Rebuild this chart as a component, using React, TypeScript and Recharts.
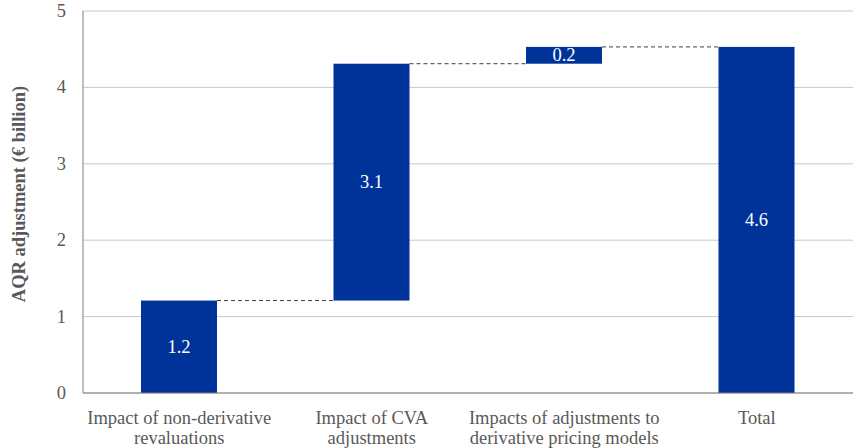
import React from 'react';
import { BarChart, Bar, XAxis, YAxis, CartesianGrid, LabelList } from 'recharts';

const categories = [
  'Impact of non-derivative|revaluations',
  'Impact of CVA|adjustments',
  'Impacts of adjustments to|derivative pricing models',
  'Total',
];
const baseValues = [0, 1.21, 4.31, 0];
const deltaValues = [1.21, 3.1, 0.22, 4.53];
const valueLabels = ['1.2', '3.1', '0.2', '4.6'];
const yTicks = [0, 1, 2, 3, 4, 5];

const data = categories.map((c, i) => ({
  name: c,
  base: baseValues[i],
  delta: deltaValues[i],
  label: valueLabels[i],
}));

const W = 856;
const H = 448;
const M = { top: 11, right: 3, bottom: 0, left: 0 };
const Y_W = 83;
const X_H = 55;
const PLOT_W = W - M.left - M.right - Y_W;
const BAND = PLOT_W / categories.length;
const FONT = "'Liberation Serif', 'Times New Roman', serif";
const FS = 18.5;
const BLUE = '#003399';
const TXT = '#595959';

const BarWithConnector = (props: any) => {
  const { x, y, width, height, index } = props;
  const gap = BAND - width;
  return (
    <g>
      <rect x={x} y={y} width={width} height={height} fill={BLUE} />
      {index < categories.length - 1 && (
        <line
          x1={x + width}
          x2={x + width + gap}
          y1={y}
          y2={y}
          stroke="#404040"
          strokeWidth={1}
          strokeDasharray="4 3"
        />
      )}
    </g>
  );
};

const XTick = (props: any) => {
  const { x, y, payload } = props;
  const lines = String(payload.value).split('|');
  return (
    <text
      x={x}
      y={y}
      textAnchor="middle"
      fill={TXT}
      style={{ fontFamily: FONT, fontSize: FS }}
    >
      {lines.map((l, i) => (
        <tspan key={i} x={x} dy={i === 0 ? 28.5 : 20}>
          {l}
        </tspan>
      ))}
    </text>
  );
};

const YTick = (props: any) => {
  const { x, y, payload } = props;
  return (
    <text
      x={x}
      y={y}
      dy={6}
      textAnchor="end"
      fill={TXT}
      style={{ fontFamily: FONT, fontSize: FS }}
    >
      {payload.value}
    </text>
  );
};

const ValueLabel = (props: any) => {
  const { x, y, width, height, value } = props;
  return (
    <text
      x={x + width / 2}
      y={y + height / 2}
      dy={6}
      textAnchor="middle"
      fill="#ffffff"
      style={{ fontFamily: FONT, fontSize: FS }}
    >
      {value}
    </text>
  );
};

export default function App() {
  return (
    <div style={{ position: 'absolute', left: 0, top: 0, background: '#fff', fontFamily: FONT }}>
      <BarChart width={W} height={H} data={data} margin={M} barSize={76} style={{ fontFamily: FONT }}>
        <CartesianGrid vertical={false} stroke="#c8c8c8" />
        <XAxis
          dataKey="name"
          height={X_H}
          tickLine={false}
          tickSize={0}
          axisLine={{ stroke: '#7f7f7f' }}
          tick={<XTick />}
          interval={0}
        />
        <YAxis
          width={Y_W}
          domain={[0, 5]}
          ticks={yTicks}
          tickLine={false}
          tickSize={0}
          tickMargin={17}
          axisLine={{ stroke: '#7f7f7f' }}
          tick={<YTick />}
          label={{
            content: () => (
              <text
                transform="translate(25,194) rotate(-90)"
                textAnchor="middle"
                fill={TXT}
                style={{ fontFamily: FONT, fontSize: FS, fontWeight: 'bold' }}
              >
                AQR adjustment (€ billion)
              </text>
            ),
          }}
        />
        <Bar dataKey="base" stackId="a" fill="transparent" isAnimationActive={false} />
        <Bar dataKey="delta" stackId="a" shape={<BarWithConnector />} isAnimationActive={false}>
          <LabelList dataKey="label" content={<ValueLabel />} />
        </Bar>
      </BarChart>
    </div>
  );
}
